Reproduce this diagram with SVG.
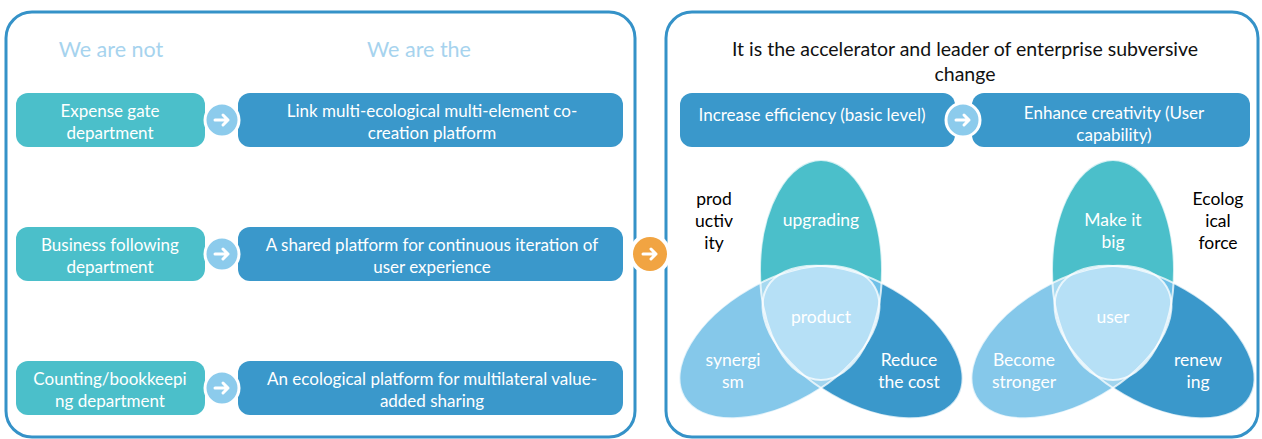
<svg xmlns="http://www.w3.org/2000/svg" width="1262" height="439" viewBox="0 0 1262 439">
  <style>
    text { font-family: Lato, "Liberation Sans", sans-serif; text-anchor: middle; }
    .panel { fill: #fff; stroke: #3592c8; stroke-width: 3; }
    .head { font-size: 21.5px; fill: #a6d3ee; }
    .teal { fill: #4bbfca; }
    .blue { fill: #3a98cb; }
    .lbl { font-size: 17px; fill: #fff; }
    .title { font-size: 19.5px; fill: #111; }
    .vlbl { font-size: 17.5px; fill: #fff; }
    .side { font-size: 17.5px; fill: #000; }
    .arrowc { fill: #8ccbec; stroke: #fff; stroke-width: 3; }
    .arrow { fill: none; stroke: #fff; stroke-width: 3; stroke-linecap: round; stroke-linejoin: round; }
    .rim { fill: none; stroke: #fff; stroke-width: 2; stroke-opacity: 0.75; }
  </style>
  <defs>
    <!-- three petals, rotated copies about the shared centre (821,318) -->
    <ellipse id="pTop" cx="821" cy="270" rx="61" ry="110"/>
    <ellipse id="pLeft" cx="821" cy="270" rx="61" ry="110" transform="rotate(-120 821 318)"/>
    <ellipse id="pRight" cx="821" cy="270" rx="61" ry="110" transform="rotate(120 821 318)"/>
    <clipPath id="cTop"><use href="#pTop"/></clipPath>
    <clipPath id="cLeft"><use href="#pLeft"/></clipPath>
    <clipPath id="cRight"><use href="#pRight"/></clipPath>
    <g id="venn">
      <use href="#pRight" fill="#3a98cb"/>
      <use href="#pLeft" fill="#85c8ea"/>
      <use href="#pTop" fill="#4bbfca"/>
      <g clip-path="url(#cTop)"><use href="#pLeft" fill="#a6d9f0"/></g>
      <g clip-path="url(#cTop)"><use href="#pRight" fill="#6ec0e8"/></g>
      <g clip-path="url(#cLeft)"><use href="#pRight" fill="#a0d4ee"/></g>
      <g clip-path="url(#cTop)"><g clip-path="url(#cLeft)"><use href="#pRight" fill="#b6e0f6"/></g></g>
      <use href="#pTop" class="rim"/>
      <use href="#pLeft" class="rim"/>
      <use href="#pRight" class="rim"/>
    </g>
    <g id="arr">
      <circle r="17" class="arrowc"/>
      <path class="arrow" d="M-7,0 H6 M1,-5 L6,0 L1,5"/>
    </g>
  </defs>

  <!-- panels -->
  <g id="panel-left"><rect class="panel" x="6" y="12" width="629" height="425" rx="26"/></g>
  <g id="panel-right"><rect class="panel" x="666" y="12" width="592" height="425" rx="26"/></g>

  <!-- left panel headings -->
  <g id="headings">
    <text class="head" x="111" y="57">We are not</text>
    <text class="head" x="419" y="57">We are the</text>
  </g>

  <!-- left column: what we are not -->
  <g id="not-1">
    <rect class="teal" x="16" y="93" width="189" height="54" rx="12"/>
    <text class="lbl" x="110" y="117">Expense gate</text>
    <text class="lbl" x="110" y="139">department</text>
  </g>
  <g id="not-2">
    <rect class="teal" x="16" y="227" width="189" height="54" rx="12"/>
    <text class="lbl" x="110" y="251">Business following</text>
    <text class="lbl" x="110" y="273">department</text>
  </g>
  <g id="not-3">
    <rect class="teal" x="16" y="361" width="189" height="54" rx="12"/>
    <text class="lbl" x="110" y="385">Counting/bookkeepi</text>
    <text class="lbl" x="110" y="407">ng department</text>
  </g>

  <!-- right column: what we are -->
  <g id="are-1">
    <rect class="blue" x="238" y="93" width="385" height="54" rx="12"/>
    <text class="lbl" x="432" y="117">Link multi-ecological multi-element co-</text>
    <text class="lbl" x="432" y="139">creation platform</text>
  </g>
  <g id="are-2">
    <rect class="blue" x="238" y="227" width="385" height="54" rx="12"/>
    <text class="lbl" x="432" y="251">A shared platform for continuous iteration of</text>
    <text class="lbl" x="432" y="273">user experience</text>
  </g>
  <g id="are-3">
    <rect class="blue" x="238" y="361" width="385" height="54" rx="12"/>
    <text class="lbl" x="432" y="385">An ecological platform for multilateral value-</text>
    <text class="lbl" x="432" y="407">added sharing</text>
  </g>

  <!-- right panel title and stages -->
  <g id="title">
    <text class="title" x="965" y="56">It is the accelerator and leader of enterprise subversive</text>
    <text class="title" x="965" y="81">change</text>
  </g>
  <g id="stage-1">
    <rect class="blue" x="680" y="93" width="275" height="54" rx="12"/>
    <text class="lbl" x="812" y="121">Increase efficiency (basic level)</text>
  </g>
  <g id="stage-2">
    <rect class="blue" x="972" y="93" width="278" height="54" rx="12"/>
    <text class="lbl" x="1114" y="119">Enhance creativity (User</text>
    <text class="lbl" x="1114" y="141">capability)</text>
  </g>

  <!-- venn: product -->
  <g id="venn-product">
    <use href="#venn"/>
    <text class="vlbl" x="821" y="226">upgrading</text>
    <text class="vlbl" x="821" y="323">product</text>
    <text class="vlbl" x="733" y="366">synergi</text>
    <text class="vlbl" x="733" y="388">sm</text>
    <text class="vlbl" x="909" y="366">Reduce</text>
    <text class="vlbl" x="909" y="388">the cost</text>
    <text class="side" x="714" y="205">prod</text>
    <text class="side" x="714" y="227">uctiv</text>
    <text class="side" x="714" y="249">ity</text>
  </g>

  <!-- venn: user -->
  <g id="venn-user">
    <use href="#venn" transform="translate(292 0)"/>
    <text class="vlbl" x="1113" y="226">Make it</text>
    <text class="vlbl" x="1113" y="248">big</text>
    <text class="vlbl" x="1113" y="323">user</text>
    <text class="vlbl" x="1024" y="366">Become</text>
    <text class="vlbl" x="1024" y="388">stronger</text>
    <text class="vlbl" x="1198" y="366">renew</text>
    <text class="vlbl" x="1198" y="388">ing</text>
    <text class="side" x="1218" y="205">Ecolog</text>
    <text class="side" x="1218" y="227">ical</text>
    <text class="side" x="1218" y="249">force</text>
  </g>

  <!-- connectors -->
  <g id="connectors">
    <use href="#arr" x="222" y="120"/>
    <use href="#arr" x="222" y="254"/>
    <use href="#arr" x="222" y="388"/>
    <use href="#arr" x="963" y="120"/>
    <circle cx="650" cy="254" r="21" fill="#fff"/>
    <circle cx="650" cy="254" r="17" fill="#f1a442"/>
    <path class="arrow" d="M643,254 H656 M651,249 L656,254 L651,259"/>
  </g>
</svg>
